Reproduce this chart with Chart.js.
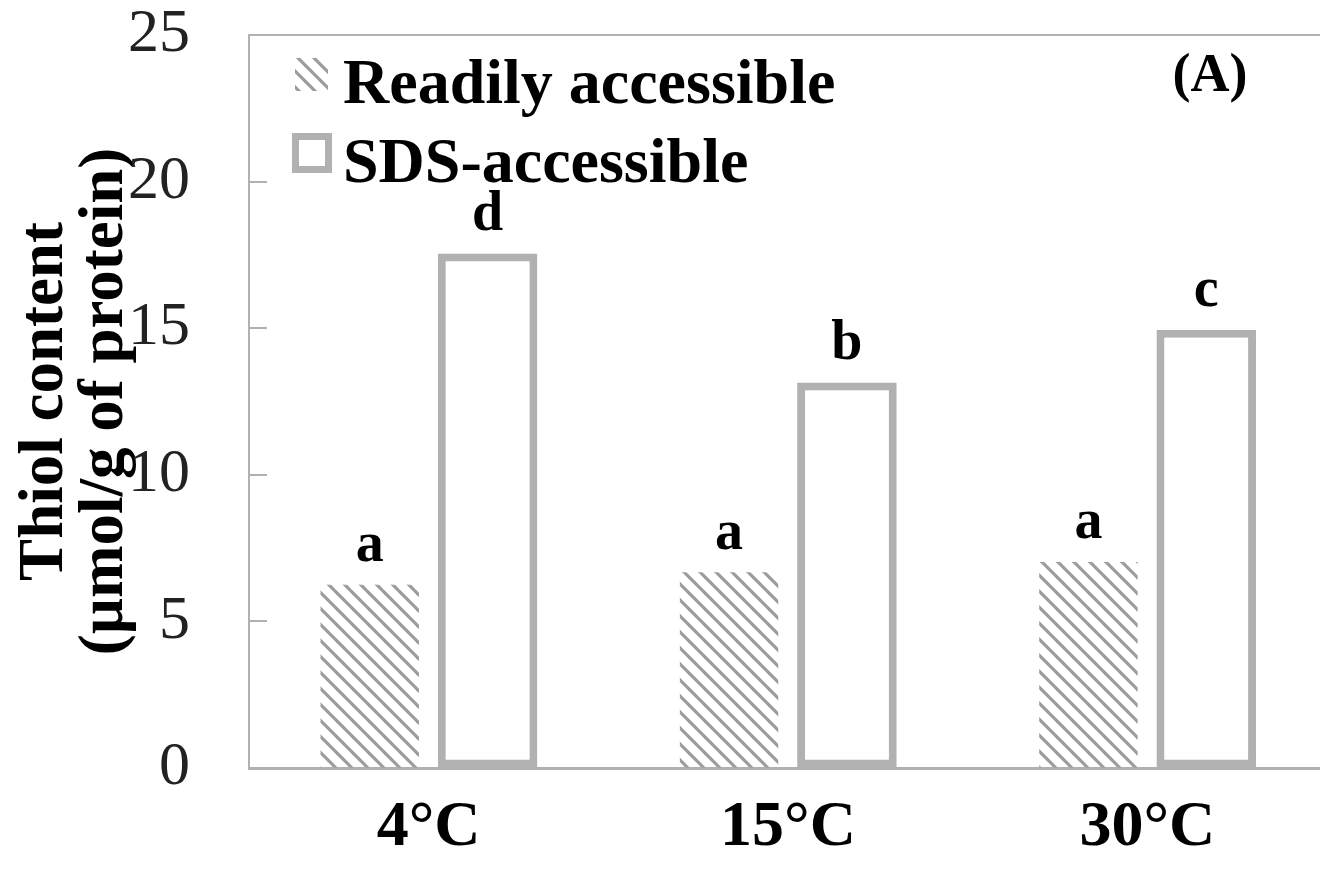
<!DOCTYPE html>
<html>
<head>
<meta charset="utf-8">
<script src="https://cdn.jsdelivr.net/npm/chart.js@4.4.1/dist/chart.umd.min.js"></script>
<style>
  html, body { margin: 0; padding: 0; background: #ffffff; overflow: hidden; }
  #wrap { width: 1320px; height: 877px; overflow: hidden; }
  canvas { display: block; }
</style>
</head>
<body>
<div id="wrap"><canvas id="thiol" width="1330" height="877"></canvas></div>
<script>
// Storage temperatures
const categories = ['4°C', '15°C', '30°C'];
// Thiol content, µmol/g of protein
const readilyValues = [6.25, 6.68, 7.03];
const sdsValues = [17.55, 13.15, 14.95];
// Significance letters above each bar
const readilyLetters = ['a', 'a', 'a'];
const sdsLetters = ['d', 'b', 'c'];
const yTicks = [0, 5, 10, 15, 20, 25];
const seriesNames = ['Readily accessible', 'SDS-accessible'];
const yTitle = ['Thiol content', '(µmol/g of protein)'];
const panelTag = '(A)';

const SERIF = '"Liberation Serif", "Times New Roman", serif';
const GREY = '#b1b1b1';
const HATCH = '#9c9c9c';
const CLEAR = 'rgba(0,0,0,0)';

// diagonal hatch fill for the readily accessible bars
function makeHatch() {
  const s = 16;
  const c = document.createElement('canvas');
  c.width = s; c.height = s;
  const g = c.getContext('2d');
  g.strokeStyle = HATCH;
  g.lineWidth = 3.2;
  g.lineCap = 'square';
  for (const x0 of [-s, 0, s]) {
    g.beginPath();
    g.moveTo(x0, 0);
    g.lineTo(x0 + s, s);
    g.stroke();
  }
  return g.createPattern(c, 'repeat');
}
const ctx = document.getElementById('thiol').getContext('2d');
const hatch = makeHatch();

// frame, inner tick marks, significance letters, legend and panel tag
const decorations = {
  id: 'decorations',
  afterDatasetsDraw(chart) {
    const { ctx, chartArea: a, scales: { y } } = chart;
    ctx.save();
    // top frame line
    ctx.strokeStyle = GREY;
    ctx.lineWidth = 2;
    ctx.beginPath();
    ctx.moveTo(a.left, a.top);
    ctx.lineTo(a.right, a.top);
    ctx.stroke();
    // inward tick marks on the value axis
    yTicks.forEach(v => {
      const py = Math.round(y.getPixelForValue(v));
      ctx.beginPath();
      ctx.moveTo(a.left, py);
      ctx.lineTo(a.left + 18, py);
      ctx.stroke();
    });
    // letters above bars
    ctx.fillStyle = '#000';
    ctx.font = 'bold 56px ' + SERIF;
    ctx.textAlign = 'center';
    ctx.textBaseline = 'middle';
    const letterSets = [readilyLetters, sdsLetters];
    chart.data.datasets.forEach((ds, di) => {
      chart.getDatasetMeta(di).data.forEach((bar, i) => {
        ctx.fillText(letterSets[di][i], bar.x, bar.y - 38);
      });
    });
    // legend
    const lx = a.left + 46;
    ctx.fillStyle = hatch;
    ctx.fillRect(lx, a.top + 23, 33, 33);
    ctx.strokeStyle = GREY;
    ctx.lineWidth = 7;
    ctx.strokeRect(lx + 0.5, a.top + 101.5, 33, 33);
    ctx.fillStyle = '#000';
    ctx.font = 'bold 64px ' + SERIF;
    ctx.textAlign = 'left';
    ctx.textBaseline = 'alphabetic';
    ctx.fillText(seriesNames[0], lx + 48, a.top + 68);
    ctx.fillText(seriesNames[1], lx + 48, a.top + 147);
    // panel tag
    ctx.font = 'bold 54px ' + SERIF;
    ctx.textAlign = 'center';
    ctx.textBaseline = 'middle';
    ctx.fillText(panelTag, a.right - 117, a.top + 42);
    ctx.restore();
  }
};

new Chart(ctx, {
  type: 'bar',
  data: {
    labels: categories,
    datasets: [
      {
        label: seriesNames[0],
        data: readilyValues,
        backgroundColor: hatch,
        borderWidth: 0,
        categoryPercentage: 0.656,
        barPercentage: 0.835
      },
      {
        label: seriesNames[1],
        data: sdsValues,
        backgroundColor: '#ffffff',
        borderColor: GREY,
        borderWidth: 8,
        borderSkipped: false,
        categoryPercentage: 0.656,
        barPercentage: 0.845
      }
    ]
  },
  options: {
    responsive: false,
    animation: false,
    devicePixelRatio: 1,
    layout: { padding: { top: 35, right: 3, left: 0, bottom: 0 } },
    plugins: {
      legend: { display: false },
      tooltip: { enabled: false }
    },
    scales: {
      x: {
        grid: { display: true, drawOnChartArea: false, drawTicks: true, tickLength: 28, color: CLEAR },
        border: { display: true, color: GREY, width: 3 },
        ticks: {
          color: '#000',
          padding: 0,
          font: { family: SERIF, size: 64, weight: 'bold', lineHeight: 1 }
        },
        afterFit(scale) { scale.height = 109; }
      },
      y: {
        min: 0,
        max: 25,
        grid: { display: true, drawOnChartArea: false, drawTicks: true, tickLength: 59, color: CLEAR },
        border: { display: true, color: GREY, width: 2 },
        afterBuildTicks(scale) { scale.ticks = yTicks.map(v => ({ value: v })); },
        ticks: {
          color: '#222',
          padding: 0,
          font: { family: SERIF, size: 62, lineHeight: 1 }
        },
        title: {
          display: true,
          text: yTitle,
          color: '#000',
          padding: { top: 15, bottom: 0 },
          font: { family: SERIF, size: 63, weight: 'bold', lineHeight: 0.96 }
        },
        afterFit(scale) { scale.width = 249; }
      }
    }
  },
  plugins: [decorations]
});
</script>
</body>
</html>
